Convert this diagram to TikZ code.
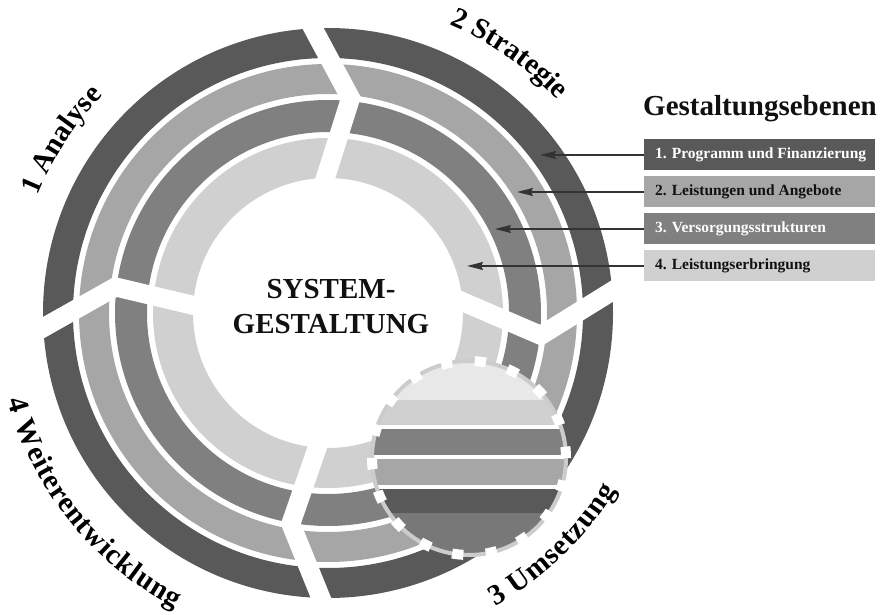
\documentclass[tikz,border=0pt]{standalone}
\usepackage{fontspec}
\setmainfont{Liberation Serif}
\usetikzlibrary{calc,decorations.text,arrows.meta}
\definecolor{cA}{HTML}{595959}
\definecolor{cB}{HTML}{A6A6A6}
\definecolor{cC}{HTML}{808080}
\definecolor{cD}{HTML}{D0D0D0}
\definecolor{cE}{HTML}{E8E8E8}
\definecolor{cF}{HTML}{787878}
\definecolor{txt}{HTML}{111111}
\definecolor{arr}{HTML}{333333}
\newcommand\lblfont{\bfseries\fontsize{29}{29}\selectfont}
\begin{document}
\begin{tikzpicture}[x=1pt,y=1pt,
  divider/.style={white, line width=19pt, miter limit=20, line join=miter},
  legbox/.style={minimum width=231pt, minimum height=31pt, inner sep=0pt},
  legtext/.style={anchor=west, inner sep=0pt, font=\bfseries\fontsize{15.5}{16}\selectfont},
  arrowline/.style={arr, line width=1.6pt, -{Stealth[length=16pt,width=8pt,inset=2pt]}},
  bigtext/.style={font=\bfseries\fontsize{29}{29}\selectfont, text=txt, inner sep=0pt},
]
\useasboundingbox (0,0) rectangle (884,614);
\coordinate (C) at (328,301);
% rings
\fill[cA, even odd rule] (C) circle[radius=285] (C) circle[radius=255];
\fill[cB, even odd rule] (C) circle[radius=249] (C) circle[radius=219];
\fill[cC, even odd rule] (C) circle[radius=213] (C) circle[radius=181];
\fill[cD, even odd rule] (C) circle[radius=175] (C) circle[radius=135];
% dividers
\draw[divider] ($(C)+(94:296)$) -- ($(C)+(84:216)$) -- ($(C)+(92.5:126)$);
\draw[divider] ($(C)+(5.5:296)$) -- ($(C)+(-6:214)$) -- ($(C)+(7:126)$);
\draw[divider] ($(C)+(269.5:296)$) -- ($(C)+(260:214)$) -- ($(C)+(266.5:126)$);
\draw[divider] ($(C)+(184:296)$) -- ($(C)+(173:214)$) -- ($(C)+(177.5:126)$);
% striped dashed circle
\coordinate (D) at (469,156);
\begin{scope}
\clip (D) circle[radius=97];
\fill[cE] (360,214) rectangle (580,260);
\fill[cD] (360,189) rectangle (580,214);
\fill[white] (360,185) rectangle (580,189);
\fill[cC] (360,159) rectangle (580,185);
\fill[white] (360,155) rectangle (580,159);
\fill[cB] (360,129) rectangle (580,155);
\fill[white] (360,125) rectangle (580,129);
\fill[cA] (360,101) rectangle (580,125);
\fill[cF] (360,50) rectangle (580,101);
\end{scope}
\draw[gray!40, line width=4pt] (D) circle[radius=97];
\draw[white, line width=10pt, dash pattern=on 11.3pt off 22.56pt] (D) circle[radius=97];
% centre text
\node[bigtext, anchor=base] (sys) at (331,315) {SYSTEM-};
\node[bigtext, anchor=base] (ges) at (331,280) {GESTALTUNG};
% phase labels
\path[decorate, decoration={text along path, text align=center, text={|\lblfont|1 Analyse}}]
  ($(C)+(185:313)$) arc[start angle=185, end angle=109, radius=313];
\path[decorate, decoration={text along path, text align=center, text={|\lblfont|2 Strategie}}]
  ($(C)+(90:313)$) arc[start angle=90, end angle=20, radius=313];
\path[decorate, decoration={text along path, text align=center, raise=-20pt, text={|\lblfont|3 Umsetzung}}]
  ($(C)+(-80:318)$) arc[start angle=-80, end angle=-12, radius=318];
\path[decorate, decoration={text along path, text align=center, raise=-20pt, text={|\lblfont|4 Weiterentwicklung}}]
  ($(C)+(175:312)$) arc[start angle=175, end angle=263, radius=312];
% legend
\node[anchor=base west, font=\bfseries\fontsize{29}{29}\selectfont, text=txt, inner sep=0pt] (title) at (643,498) {Gestaltungsebenen};
\node[legbox, fill=cA] (l1) at (759.5,459) {};
\node[legbox, fill=cB] (l2) at (759.5,422) {};
\node[legbox, fill=cC] (l3) at (759.5,385) {};
\node[legbox, fill=cD] (l4) at (759.5,348) {};
\node[legtext, text=white] (l1t) at ([xshift=11pt]l1.west) {1. Programm und Finanzierung};
\node[legtext, text=txt] (l2t) at ([xshift=11pt]l2.west) {2. Leistungen und Angebote};
\node[legtext, text=white] (l3t) at ([xshift=11pt]l3.west) {3. Versorgungsstrukturen};
\node[legtext, text=txt] (l4t) at ([xshift=11pt]l4.west) {4. Leistungserbringung};
\coordinate (t1) at (540,459);
\coordinate (t2) at (517,422);
\coordinate (t3) at (495,385);
\coordinate (t4) at (467,348);
\draw[arrowline] (l1.west) -- (t1);
\draw[arrowline] (l2.west) -- (t2);
\draw[arrowline] (l3.west) -- (t3);
\draw[arrowline] (l4.west) -- (t4);
\end{tikzpicture}
\end{document}
